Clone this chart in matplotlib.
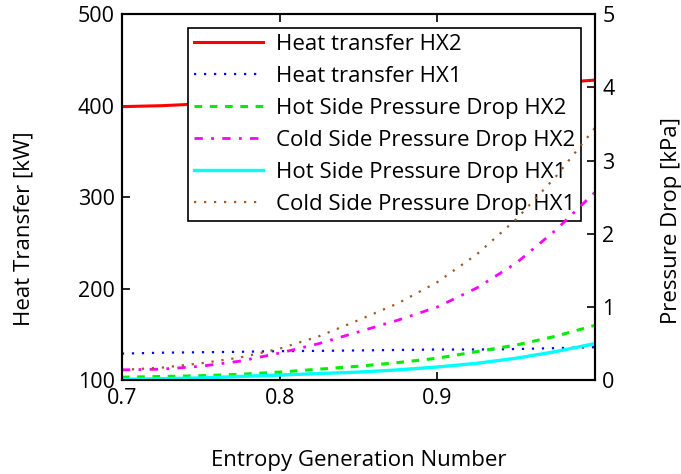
import matplotlib
matplotlib.use('Agg')
import matplotlib.pyplot as plt

plt.rcParams['font.family'] = ['Open Sans', 'DejaVu Sans']

# Entropy generation number
x = [0.70, 0.725, 0.75, 0.775, 0.80, 0.825, 0.85, 0.875, 0.90, 0.925, 0.95, 0.975, 1.00]

# heat transfer [kW] (left axis)
q_hx2 = [399, 400, 402, 404, 406, 408, 410, 412, 415, 418, 421, 425, 428]
q_hx1 = [129, 130, 130.5, 131, 131.7, 132, 132.5, 133, 133.5, 133.5, 134, 135, 136]

# pressure drops [kPa] (right axis)
dp_hot_hx2 = [0.04, 0.05, 0.06, 0.08, 0.11, 0.15, 0.19, 0.24, 0.30, 0.39, 0.48, 0.60, 0.75]
dp_cold_hx2 = [0.14, 0.15, 0.19, 0.26, 0.37, 0.50, 0.66, 0.82, 1.00, 1.26, 1.60, 2.05, 2.57]
dp_hot_hx1 = [0.01, 0.02, 0.03, 0.05, 0.07, 0.09, 0.11, 0.14, 0.18, 0.23, 0.30, 0.39, 0.50]
dp_cold_hx1 = [0.14, 0.17, 0.23, 0.31, 0.43, 0.60, 0.82, 1.05, 1.34, 1.72, 2.20, 2.78, 3.45]

FS = 16

fig = plt.figure(figsize=(6.81, 4.74), dpi=100)
ax = fig.add_subplot(111)
fig.subplots_adjust(left=0.179, right=0.874, bottom=0.198, top=0.970)
ax2 = ax.twinx()

l1, = ax.plot(x, q_hx2, color='#ff0000', lw=2.2, label='Heat transfer HX2')
l2, = ax.plot(x, q_hx1, color='#0000ff', lw=1.6, ls=(0, (1, 3.5)), label='Heat transfer HX1')
l3, = ax2.plot(x, dp_hot_hx2, color='#00ee00', lw=2.2, ls=(0, (2.5, 2.5)),
               label='Hot Side Pressure Drop HX2')
l4, = ax2.plot(x, dp_cold_hx2, color='#ff00ff', lw=2.0, ls=(0, (3, 3, 1, 3)),
               label='Cold Side Pressure Drop HX2')
l5, = ax2.plot(x, dp_hot_hx1, color='#00ffff', lw=2.4, label='Hot Side Pressure Drop HX1')
l6, = ax2.plot(x, dp_cold_hx1, color='#9c5a24', lw=1.6, ls=(0, (1, 3.5)),
               label='Cold Side Pressure Drop HX1')

ax.set_xlim(0.7, 1.0)
ax.set_ylim(100, 500)
ax2.set_ylim(0, 5)
ax.set_xticks([0.7, 0.8, 0.9, 1.0])
ax.set_xticklabels(['0.7', '0.8', '0.9', ''])
ax.set_yticks([100, 200, 300, 400, 500])
ax2.set_yticks([0, 1, 2, 3, 4, 5])

ax.tick_params(axis='x', direction='in', top=True, length=6, width=1.2,
               labelsize=FS - 0.5, pad=6)
ax.tick_params(axis='y', direction='in', length=6, width=1.2, labelsize=FS - 0.5, pad=5)
ax2.tick_params(axis='y', direction='in', length=6, width=1.2, labelsize=FS - 0.5, pad=5)
for a in (ax, ax2):
    for s in a.spines.values():
        s.set_linewidth(1.5)

ax.set_xlabel('Entropy Generation Number', fontsize=FS)
ax.set_ylabel('Heat Transfer [kW]', fontsize=FS)
ax2.set_ylabel('Pressure Drop [kPa]', fontsize=FS)
ax.xaxis.set_label_coords(0.5, -0.19)
ax.yaxis.set_label_coords(-0.185, 0.415)
ax2.yaxis.set_label_coords(1.14, 0.437)

leg = ax.legend(handles=[l1, l2, l3, l4, l5, l6], loc='upper right',
                bbox_to_anchor=(0.970, 0.962), borderaxespad=0, fontsize=FS,
                handlelength=3.1, handletextpad=0.6, labelspacing=0.5,
                borderpad=0.25, fancybox=False, edgecolor='black', framealpha=1)
leg.get_frame().set_linewidth(1.2)

fig.savefig('out.png', dpi=100)
